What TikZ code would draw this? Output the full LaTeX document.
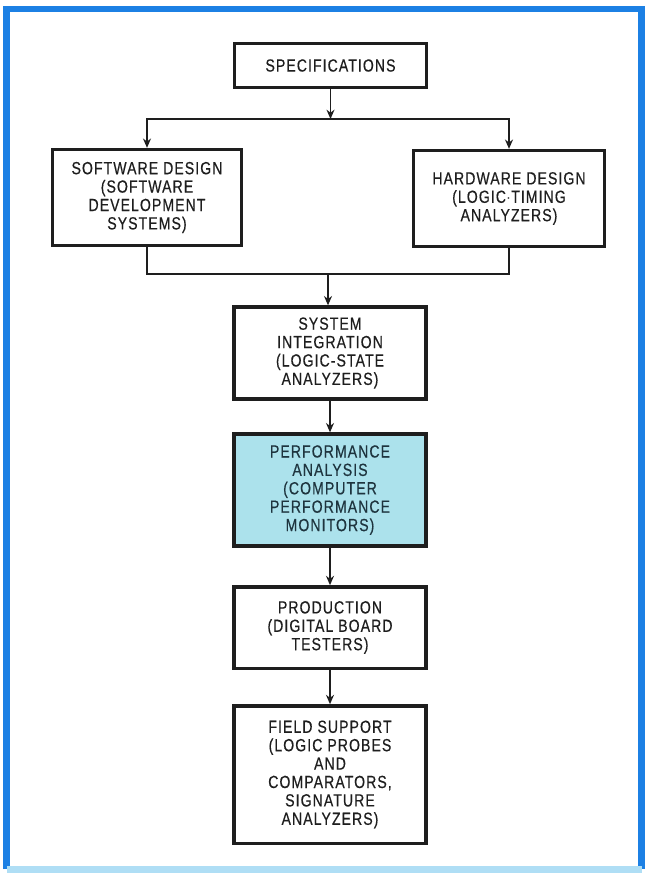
\documentclass[tikz,border=0pt]{standalone}
\usepackage{fontspec}
\setmainfont{Liberation Sans}[FakeStretch=0.8, LetterSpace=6, FakeBold=0.4]
\usetikzlibrary{arrows.meta,positioning,calc}
\definecolor{framebl}{RGB}{28,128,228}
\definecolor{framelt}{RGB}{175,222,245}
\definecolor{perffill}{RGB}{172,226,236}
\definecolor{perftext}{RGB}{30,52,62}
\definecolor{inkgray}{RGB}{30,30,30}

\begin{document}
\begin{tikzpicture}[
  x=0.75pt, y=-0.75pt,
  >={Stealth[length=7pt,width=6pt]},
  stage/.style={rectangle, draw=inkgray, fill=white, line width=2.5pt,
                align=center, inner sep=2pt, text=inkgray,
                font=\fontsize{13.2}{13.8}\selectfont, minimum width=144pt},
  hilite/.style={stage, fill=perffill, text=perftext},
  flow/.style={->, draw=inkgray, line width=1.1pt},
  link/.style={draw=inkgray, line width=1.1pt},
]
\useasboundingbox (0,0) rectangle (646,873);
% frame
\fill[white] (0,0) rectangle (646,873);
\draw[framebl, line width=5pt] (6.5,869) -- (6.5,9) -- (641.5,9) -- (641.5,869);
\draw[framelt, line width=5pt] (6.5,869.5) -- (641.5,869.5);
% Band 1 -- Specifications
\node[stage, minimum height=33pt] (spec) at (330.5,65.5) {SPECIFICATIONS};
% Band 2 -- Software design | Hardware design
\node[stage, minimum width=142pt, minimum height=72pt] (soft) at (147,197.5)
  {SOFTWARE DESIGN\\(SOFTWARE\\DEVELOPMENT\\SYSTEMS)};
\node[stage, minimum width=143pt, minimum height=72pt] (hard) at (509,198.5)
  {HARDWARE DESIGN\\(LOGIC\kern.3pt$\cdot$\kern.3pt TIMING\\ANALYZERS)};
% Band 3 -- System integration
\node[stage, minimum height=69pt] (sys) at (330,353)
  {SYSTEM\\INTEGRATION\\(LOGIC-STATE\\ANALYZERS)};
% Band 4 -- Performance analysis
\node[hilite, minimum height=84pt] (perf) at (330,490)
  {PERFORMANCE\\ANALYSIS\\(COMPUTER\\PERFORMANCE\\MONITORS)};
% Band 5 -- Production
\node[stage, minimum height=61pt] (prod) at (330,627.5)
  {PRODUCTION\\(DIGITAL BOARD\\TESTERS)};
% Band 6 -- Field support
\node[stage, minimum height=103pt] (field) at (330,774.5)
  {FIELD SUPPORT\\(LOGIC PROBES\\AND\\COMPARATORS,\\SIGNATURE\\ANALYZERS)};
% junctions
\coordinate (split) at (spec.south |- 0,119);
\coordinate (merge) at (328,274);
% edges
\draw[flow] (spec.south) -- (split);
\draw[flow] (split) -| (soft.north);
\draw[flow] (split) -| (hard.north);
\draw[link] (soft.south) |- (merge) -| (hard.south);
\draw[flow] (merge) -- (merge |- sys.north);
\draw[flow] (sys.south) -- (perf.north);
\draw[flow] (perf.south) -- (prod.north);
\draw[flow] (prod.south) -- (field.north);
\end{tikzpicture}
\end{document}
